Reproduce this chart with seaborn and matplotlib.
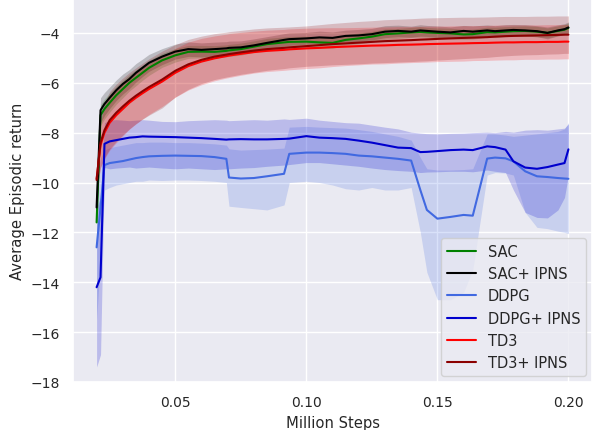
import numpy as np
import pandas as pd
import matplotlib
matplotlib.use("Agg")
import matplotlib.pyplot as plt
import seaborn as sns

# ---------------- data ----------------
steps = [0.020, 0.0215, 0.023, 0.025, 0.0275, 0.030, 0.0325, 0.035, 0.0375, 0.040,
         0.045, 0.050, 0.055, 0.060, 0.065, 0.0695, 0.0705, 0.075, 0.080, 0.085,
         0.0915, 0.0935, 0.100, 0.105, 0.110, 0.115, 0.120, 0.125, 0.130, 0.135,
         0.140, 0.1435, 0.146, 0.150, 0.155, 0.160, 0.1635, 0.169, 0.172, 0.176,
         0.179, 0.1835, 0.188, 0.192, 0.196, 0.1985, 0.200]

sac_ipns = [-11.0, -7.1, -6.85, -6.6, -6.3, -6.05, -5.85, -5.6, -5.4, -5.2,
            -4.95, -4.75, -4.65, -4.68, -4.65, -4.62, -4.6, -4.58, -4.5, -4.4,
            -4.28, -4.25, -4.22, -4.18, -4.2, -4.12, -4.1, -4.05, -3.95, -3.92,
            -3.95, -3.9, -3.92, -3.95, -3.98, -3.92, -3.95, -3.9, -3.93, -3.9,
            -3.88, -3.9, -3.93, -4.0, -3.9, -3.85, -3.78]
sac_ipns_sd = [0.6, 0.5, 0.46, 0.43, 0.41, 0.4, 0.38, 0.37, 0.35, 0.34,
               0.32, 0.3, 0.29, 0.28, 0.28, 0.27, 0.27, 0.26, 0.26, 0.25,
               0.25, 0.25, 0.24, 0.25, 0.24, 0.23, 0.24, 0.23, 0.24, 0.23,
               0.22, 0.23, 0.22, 0.23, 0.22, 0.22, 0.23, 0.22, 0.22, 0.23,
               0.22, 0.23, 0.22, 0.24, 0.22, 0.22, 0.22]

sac = [-11.6, -7.3, -7.05, -6.8, -6.5, -6.25, -6.0, -5.8, -5.6, -5.4,
       -5.1, -4.9, -4.76, -4.75, -4.76, -4.72, -4.7, -4.65, -4.55, -4.45,
       -4.38, -4.36, -4.35, -4.38, -4.4, -4.28, -4.22, -4.15, -4.05, -4.02,
       -3.98, -3.96, -3.98, -4.0, -4.02, -4.06, -4.05, -3.97, -3.98, -3.95,
       -3.93, -3.92, -3.95, -4.0, -3.92, -3.87, -3.8]
sac_sd = [0.5, 0.42, 0.4, 0.38, 0.36, 0.35, 0.33, 0.32, 0.3, 0.3,
          0.28, 0.27, 0.26, 0.25, 0.25, 0.24, 0.24, 0.24, 0.23, 0.23,
          0.22, 0.22, 0.22, 0.23, 0.22, 0.21, 0.22, 0.21, 0.21, 0.2,
          0.2, 0.21, 0.2, 0.2, 0.21, 0.2, 0.2, 0.2, 0.21, 0.2,
          0.2, 0.2, 0.21, 0.2, 0.2, 0.2, 0.2]

td3 = [-9.85, -8.5, -8.0, -7.6, -7.3, -7.05, -6.8, -6.6, -6.42, -6.25,
       -5.95, -5.6, -5.33, -5.15, -5.02, -4.93, -4.91, -4.84, -4.77, -4.72,
       -4.68, -4.66, -4.62, -4.6, -4.57, -4.55, -4.53, -4.51, -4.5, -4.48,
       -4.47, -4.46, -4.45, -4.44, -4.43, -4.42, -4.41, -4.4, -4.39, -4.38,
       -4.38, -4.37, -4.37, -4.36, -4.36, -4.35, -4.35]
td3_sd = [0.4, 0.9, 1.05, 1.1, 1.1, 1.08, 1.06, 1.05, 1.03, 1.02,
          1.0, 0.98, 0.96, 0.93, 0.9, 0.88, 0.88, 0.86, 0.84, 0.83,
          0.82, 0.82, 0.81, 0.8, 0.78, 0.76, 0.75, 0.74, 0.74, 0.73,
          0.72, 0.72, 0.72, 0.71, 0.71, 0.71, 0.7, 0.7, 0.7, 0.7,
          0.7, 0.69, 0.69, 0.69, 0.69, 0.69, 0.69]

td3_ipns = [-9.9, -8.4, -7.9, -7.5, -7.2, -6.95, -6.72, -6.52, -6.34, -6.17,
            -5.87, -5.52, -5.26, -5.08, -4.95, -4.87, -4.85, -4.78, -4.71, -4.65,
            -4.6, -4.58, -4.53, -4.49, -4.45, -4.42, -4.39, -4.36, -4.33, -4.31,
            -4.29, -4.27, -4.26, -4.24, -4.22, -4.2, -4.19, -4.17, -4.15, -4.13,
            -4.12, -4.11, -4.1, -4.09, -4.08, -4.07, -4.07]
td3_ipns_sd = [0.5, 1.0, 1.1, 1.15, 1.15, 1.14, 1.13, 1.12, 1.12, 1.13,
               1.14, 1.05, 1.0, 0.95, 0.92, 0.9, 0.9, 0.88, 0.87, 0.85,
               0.83, 0.82, 0.81, 0.82, 0.83, 0.84, 0.85, 0.85, 0.86, 0.86,
               0.86, 0.86, 0.86, 0.85, 0.84, 0.83, 0.82, 0.81, 0.8, 0.79,
               0.78, 0.77, 0.77, 0.76, 0.76, 0.75, 0.75]

ddpg_ipns = [-14.2, -13.8, -8.45, -8.35, -8.3, -8.25, -8.2, -8.18, -8.15, -8.16,
             -8.17, -8.18, -8.2, -8.22, -8.25, -8.28, -8.27, -8.26, -8.27, -8.27,
             -8.25, -8.24, -8.14, -8.2, -8.22, -8.25, -8.32, -8.4, -8.5, -8.6,
             -8.62, -8.78, -8.77, -8.74, -8.7, -8.68, -8.7, -8.55, -8.58, -8.68,
             -9.15, -9.4, -9.45, -9.38, -9.28, -9.22, -8.67]
ddpg_ipns_hi = [-11.0, -10.6, -7.6, -7.5, -7.48, -7.5, -7.52, -7.5, -7.48, -7.5,
                -7.55, -7.56, -7.52, -7.5, -7.48, -7.5, -7.52, -7.5, -7.48, -7.5,
                -7.45, -7.47, -7.42, -7.5, -7.55, -7.6, -7.62, -7.7, -7.78, -7.85,
                -7.98, -8.02, -8.04, -8.05, -8.03, -8.02, -8.0, -7.98, -8.0, -7.95,
                -7.98, -7.9, -7.88, -7.9, -7.85, -7.82, -7.65]
ddpg_ipns_lo = [-17.4, -16.9, -9.4, -9.45, -9.42, -9.4, -9.38, -9.42, -9.4, -9.38,
                -9.42, -9.45, -9.42, -9.45, -9.48, -9.45, -9.45, -9.42, -9.4, -9.35,
                -9.3, -9.28, -9.2, -9.2, -9.25, -9.3, -9.35, -9.42, -9.48, -9.52,
                -9.55, -9.6, -9.58, -9.57, -9.55, -9.55, -9.57, -9.5, -9.55, -9.6,
                -10.3, -11.2, -11.4, -11.42, -11.1, -10.6, -9.7]

ddpg = [-12.6, -11.0, -9.3, -9.22, -9.18, -9.14, -9.08, -9.02, -8.98, -8.95,
        -8.93, -8.92, -8.93, -8.94, -8.98, -9.05, -9.8, -9.84, -9.82, -9.75,
        -9.65, -8.85, -8.8, -8.8, -8.82, -8.85, -8.92, -8.95, -9.0, -9.05,
        -9.12, -10.3, -11.1, -11.45, -11.38, -11.3, -11.33, -9.04, -9.0, -9.03,
        -9.15, -9.55, -9.75, -9.78, -9.82, -9.84, -9.85]
ddpg_hi = [-9.7, -9.0, -8.7, -8.6, -8.55, -8.5, -8.45, -8.4, -8.4, -8.38,
           -8.38, -8.4, -8.4, -8.42, -8.45, -8.5, -8.65, -8.7, -8.68, -8.66,
           -8.62, -7.78, -7.75, -7.78, -7.8, -7.82, -7.88, -7.95, -8.05, -8.15,
           -8.3, -9.0, -9.45, -9.5, -9.5, -9.48, -9.45, -8.05, -8.05, -8.1,
           -8.15, -8.1, -8.05, -8.0, -7.95, -7.85, -7.6]
ddpg_lo = [-15.5, -13.0, -10.3, -10.2, -10.1, -10.05, -10.0, -9.95, -9.95, -9.9,
           -9.92, -9.9, -9.9, -9.92, -9.95, -10.0, -10.95, -11.0, -11.05, -11.1,
           -10.9, -10.0, -9.95, -10.0, -10.1, -10.25, -10.3, -10.2, -10.3, -10.3,
           -10.2, -12.0, -13.6, -14.7, -14.7, -14.4, -13.5, -9.7, -9.6, -9.62,
           -9.7, -11.2, -11.8, -11.85, -11.95, -12.0, -12.05]

labels = ["SAC", "SAC+ IPNS", "DDPG", "DDPG+ IPNS", "TD3", "TD3+ IPNS"]
colors = ["green", "black", "royalblue", "mediumblue", "red", "darkred"]
x_ticks = [0.05, 0.10, 0.15, 0.20]
y_ticks = [-18, -16, -14, -12, -10, -8, -6, -4]

# ---------------- build ----------------
steps_a = np.array(steps)
means = [sac, sac_ipns, ddpg, ddpg_ipns, td3, td3_ipns]
los = [np.array(sac) - np.array(sac_sd), np.array(sac_ipns) - np.array(sac_ipns_sd),
       np.array(ddpg_lo), np.array(ddpg_ipns_lo),
       np.array(td3) - np.array(td3_sd), np.array(td3_ipns) - np.array(td3_ipns_sd)]
his = [np.array(sac) + np.array(sac_sd), np.array(sac_ipns) + np.array(sac_ipns_sd),
       np.array(ddpg_hi), np.array(ddpg_ipns_hi),
       np.array(td3) + np.array(td3_sd), np.array(td3_ipns) + np.array(td3_ipns_sd)]

df = pd.concat([pd.DataFrame({"Million Steps": steps, "ret": m, "alg": lab})
                for m, lab in zip(means, labels)], ignore_index=True)

sns.set_theme(style="darkgrid")
fig = plt.figure(figsize=(5.98, 4.31), dpi=100)
ax = fig.add_axes([0.1221, 0.1114, 0.8679, 0.8886])

for lo, hi, c in zip(los, his, colors):
    ax.fill_between(steps_a, lo, hi, color=c, alpha=0.2, linewidth=0)

sns.lineplot(data=df, x="Million Steps", y="ret", hue="alg", hue_order=labels,
             palette=dict(zip(labels, colors)), errorbar=None, linewidth=1.5, ax=ax)

ax.set_xlim(0.011, 0.209)
ax.set_ylim(-17.97, -2.64)
ax.set_xticks(x_ticks)
ax.set_xticklabels([f"{t:.2f}" for t in x_ticks], fontsize=10)
ax.set_yticks(y_ticks)
ax.set_yticklabels([f"\u2212{abs(t)}" for t in y_ticks], fontsize=10)
ax.set_xlabel("Million Steps", fontsize=10.6)
ax.set_ylabel("Average Episodic return", fontsize=10.6)
ax.legend(loc="lower right", fontsize=10.5, title=None, framealpha=0.8,
          borderaxespad=0.4)

fig.savefig("out.png", dpi=100)
